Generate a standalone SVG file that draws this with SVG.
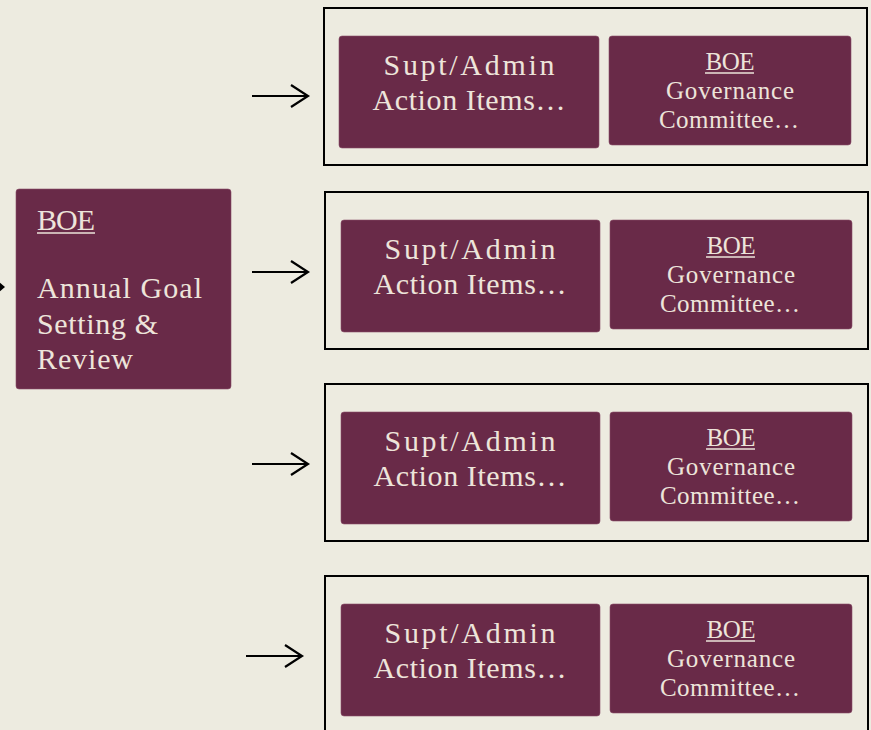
<svg xmlns="http://www.w3.org/2000/svg" width="871" height="730" viewBox="0 0 871 730">
<defs>
<style>
.bg{fill:#EDEBE0}
.frame{fill:none;stroke:#000;stroke-width:2}
.box{fill:#692A48;stroke:#8a4d68;stroke-width:0.6}
.t{font-family:"Liberation Serif","Times New Roman",serif;fill:#EDE4DA}
.big{font-size:30px}
.sm{font-size:25px}
.c{text-anchor:middle}
.ul{stroke:#EDE4DA;stroke-width:1.5}
.arr{fill:none;stroke:#000;stroke-width:2.2}
</style>
</defs>
<rect class="bg" x="0" y="0" width="871" height="730"/>

<g id="connectors">
  <path class="arr" d="M-10 287 H3"/>
  <path d="M-1 282 L5 287 L-1 292 Z" fill="#000"/>
  <path class="arr" d="M252 96 H308 M291 85 L308 96 L291 107"/>
  <path class="arr" d="M252 272 H308 M291 261 L308 272 L291 283"/>
  <path class="arr" d="M252 464 H308 M291 453 L308 464 L291 475"/>
  <path class="arr" d="M246 656 H302 M285 645 L302 656 L285 667"/>
</g>

<g id="annual-goal">
  <rect class="box" x="16" y="189" width="215" height="200" rx="3"/>
  <text class="t big" x="37" y="230" textLength="58" lengthAdjust="spacing">BOE</text>
  <line class="ul" x1="37" y1="233" x2="95" y2="233"/>
  <text class="t big" x="37" y="298" textLength="165" lengthAdjust="spacing">Annual Goal</text>
  <text class="t big" x="37" y="334" textLength="121" lengthAdjust="spacing">Setting &amp;</text>
  <text class="t big" x="37" y="369" textLength="96" lengthAdjust="spacing">Review</text>
</g>

<g id="group1">
  <rect class="frame" x="324" y="8" width="543" height="157"/>
  <g id="supt1">
    <rect class="box" x="339" y="36" width="260" height="112" rx="3"/>
    <text class="t big c" x="469" y="75" textLength="171" lengthAdjust="spacing">Supt/Admin</text>
    <text class="t big c" x="469" y="110" textLength="193" lengthAdjust="spacing">Action Items…</text>
  </g>
  <g id="boe1">
    <rect class="box" x="609" y="36" width="242" height="109" rx="3"/>
    <text class="t sm c" x="730" y="70" textLength="49" lengthAdjust="spacing">BOE</text>
    <line class="ul" x1="705" y1="73" x2="754" y2="73"/>
    <text class="t sm c" x="730" y="99" textLength="128" lengthAdjust="spacing">Governance</text>
    <text class="t sm c" x="729" y="128" textLength="140" lengthAdjust="spacing">Committee…</text>
  </g>
</g>

<g id="group2">
  <rect class="frame" x="325" y="192" width="543" height="157"/>
  <g id="supt2">
    <rect class="box" x="341" y="220" width="259" height="112" rx="3"/>
    <text class="t big c" x="470" y="259" textLength="171" lengthAdjust="spacing">Supt/Admin</text>
    <text class="t big c" x="470" y="294" textLength="193" lengthAdjust="spacing">Action Items…</text>
  </g>
  <g id="boe2">
    <rect class="box" x="610" y="220" width="242" height="109" rx="3"/>
    <text class="t sm c" x="731" y="254" textLength="49" lengthAdjust="spacing">BOE</text>
    <line class="ul" x1="706" y1="257" x2="755" y2="257"/>
    <text class="t sm c" x="731" y="283" textLength="128" lengthAdjust="spacing">Governance</text>
    <text class="t sm c" x="730" y="312" textLength="140" lengthAdjust="spacing">Committee…</text>
  </g>
</g>

<g id="group3">
  <rect class="frame" x="325" y="384" width="543" height="157"/>
  <g id="supt3">
    <rect class="box" x="341" y="412" width="259" height="112" rx="3"/>
    <text class="t big c" x="470" y="451" textLength="171" lengthAdjust="spacing">Supt/Admin</text>
    <text class="t big c" x="470" y="486" textLength="193" lengthAdjust="spacing">Action Items…</text>
  </g>
  <g id="boe3">
    <rect class="box" x="610" y="412" width="242" height="109" rx="3"/>
    <text class="t sm c" x="731" y="446" textLength="49" lengthAdjust="spacing">BOE</text>
    <line class="ul" x1="706" y1="449" x2="755" y2="449"/>
    <text class="t sm c" x="731" y="475" textLength="128" lengthAdjust="spacing">Governance</text>
    <text class="t sm c" x="730" y="504" textLength="140" lengthAdjust="spacing">Committee…</text>
  </g>
</g>

<g id="group4">
  <rect class="frame" x="325" y="576" width="543" height="170"/>
  <g id="supt4">
    <rect class="box" x="341" y="604" width="259" height="112" rx="3"/>
    <text class="t big c" x="470" y="643" textLength="171" lengthAdjust="spacing">Supt/Admin</text>
    <text class="t big c" x="470" y="678" textLength="193" lengthAdjust="spacing">Action Items…</text>
  </g>
  <g id="boe4">
    <rect class="box" x="610" y="604" width="242" height="109" rx="3"/>
    <text class="t sm c" x="731" y="638" textLength="49" lengthAdjust="spacing">BOE</text>
    <line class="ul" x1="706" y1="641" x2="755" y2="641"/>
    <text class="t sm c" x="731" y="667" textLength="128" lengthAdjust="spacing">Governance</text>
    <text class="t sm c" x="730" y="696" textLength="140" lengthAdjust="spacing">Committee…</text>
  </g>
</g>
</svg>
